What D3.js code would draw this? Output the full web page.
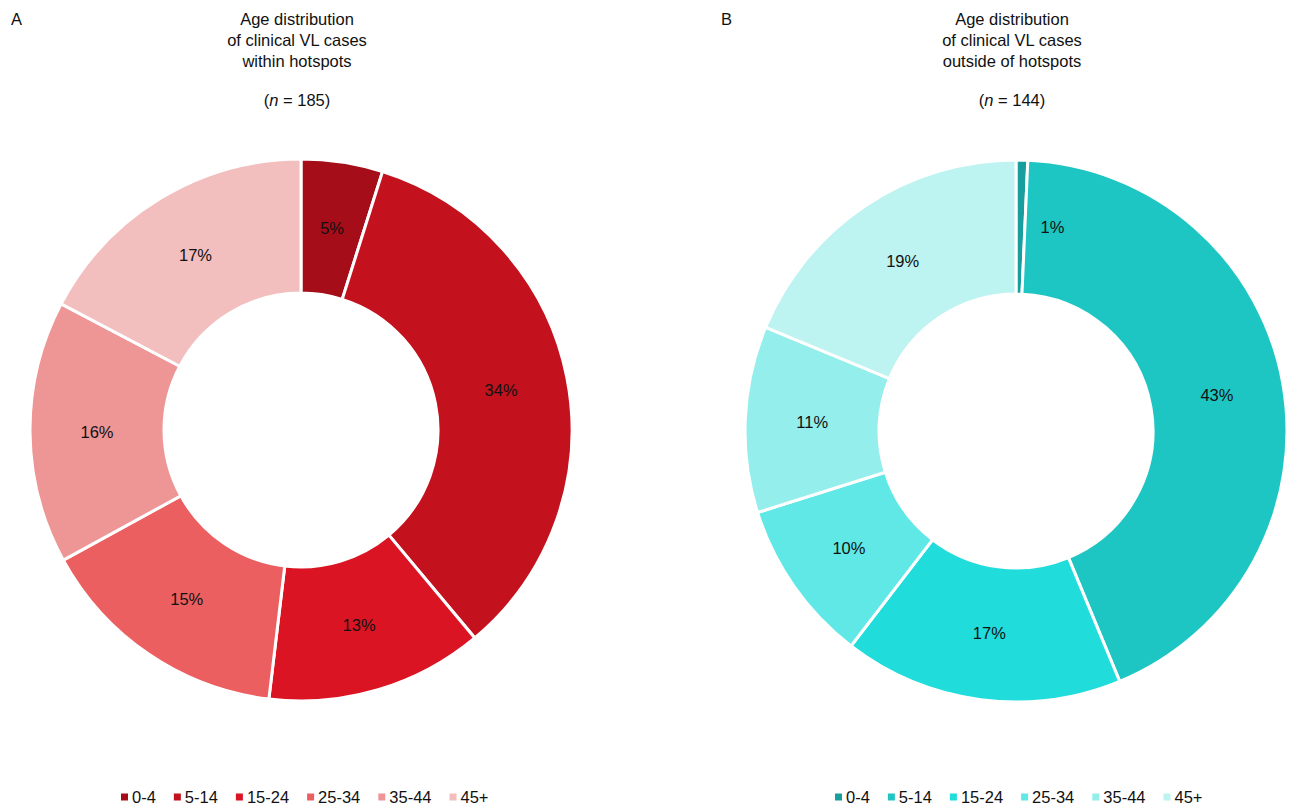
<!DOCTYPE html>
<html><head><meta charset="utf-8">
<script src="https://cdn.jsdelivr.net/npm/d3@7"></script>
<style>body{margin:0;background:#fff;}svg{display:block;font-family:"Liberation Sans",Arial,sans-serif;}</style>
</head><body>
<svg id="c" width="1291" height="805"></svg>
<script>
const categories = ["0-4","5-14","15-24","25-34","35-44","45+"];
const withinCounts = [9,63,24,28,29,32];   // n = 185
const outsideCounts = [1,62,24,14,16,27];  // n = 144
const withinColors = ["#a50d19","#c3111e","#da1423","#eb5f61","#ee9596","#f2bebe"];
const outsideColors = ["#189f9d","#1ec6c3","#20dcdb","#5fe8e6","#94eeec","#bdf3f0"];
const panels = [
  {letter:"A", title:["Age distribution","of clinical VL cases","within hotspots"], values:withinCounts, colors:withinColors, cx:301, cy:430, legX:121},
  {letter:"B", title:["Age distribution","of clinical VL cases","outside of hotspots"], values:outsideCounts, colors:outsideColors, cx:1016, cy:431, legX:835}
];
const svg = d3.select("#c");
const outerR = 271, innerR = 137;
const FS = 16.5;
const pie = d3.pie().sort(null).value(d=>d);
const arc = d3.arc().innerRadius(innerR).outerRadius(outerR);
const labelArc = d3.arc().innerRadius((innerR+outerR)/2).outerRadius((innerR+outerR)/2);
panels.forEach((p,pi)=>{
  const n = d3.sum(p.values);
  const color = d3.scaleOrdinal().domain(categories).range(p.colors);
  svg.append("text").attr("x", pi===0?11:721).attr("y",25).attr("font-size",FS).attr("fill","#111").text(p.letter);
  const tg = svg.append("text").attr("text-anchor","middle").attr("font-size",FS).attr("fill","#111");
  p.title.forEach((t,i)=>tg.append("tspan").attr("x",p.cx-4).attr("y",25+i*21).text(t));
  const nt = svg.append("text").attr("text-anchor","middle").attr("font-size",FS).attr("fill","#111").attr("x",p.cx-4).attr("y",106);
  nt.append("tspan").text("(");
  nt.append("tspan").attr("font-style","italic").text("n");
  nt.append("tspan").text(" = " + n + ")");
  const g = svg.append("g").attr("transform",`translate(${p.cx},${p.cy})`);
  const arcs = pie(p.values);
  g.selectAll("path").data(arcs).join("path")
    .attr("d",arc).attr("fill",(d,i)=>color(categories[i]))
    .attr("stroke","#fff").attr("stroke-width",3).attr("stroke-linejoin","miter");
  g.selectAll("text.lbl").data(arcs).join("text").attr("class","lbl")
    .attr("transform",d=>{
      const c = labelArc.centroid(d);
      const tiny = (d.endAngle-d.startAngle) < 0.1;
      return `translate(${tiny ? c[0]+20 : c[0]},${c[1]})`;
    })
    .attr("text-anchor",d=>(d.endAngle-d.startAngle) < 0.1 ? "start" : "middle")
    .attr("dy","0.35em").attr("font-size",FS).attr("fill","#111")
    .text(d=>Math.round(d.data/n*100)+"%");
  // legend
  const lg = svg.append("g").attr("transform",`translate(${p.legX},797)`);
  let x = 0;
  categories.forEach((c,i)=>{
    lg.append("rect").attr("x",x).attr("y",-3.5).attr("width",7).attr("height",7).attr("fill",color(c));
    const t = lg.append("text").attr("x",x+11).attr("y",0).attr("dy","0.35em").attr("font-size",FS).attr("fill","#111").text(c);
    x += 11 + t.node().getComputedTextLength() + 18;
  });
});
</script>
</body></html>
